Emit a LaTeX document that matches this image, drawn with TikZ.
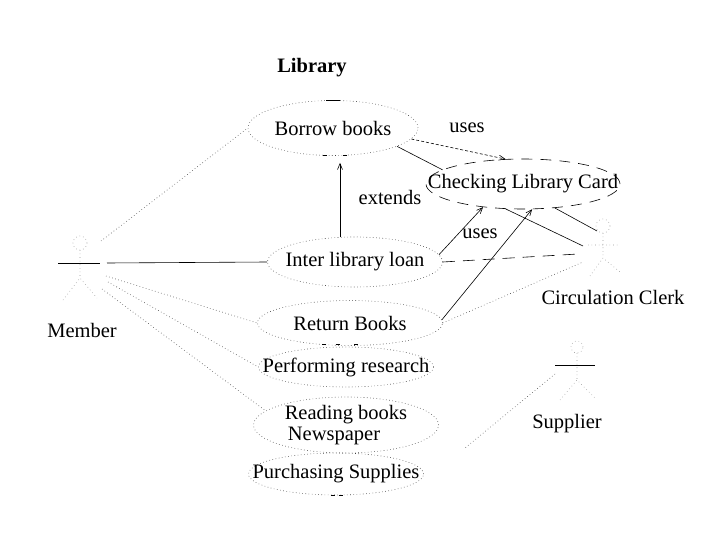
\documentclass[tikz,border=0pt]{standalone}
\usepackage{fontspec}
\setmainfont{Liberation Serif}
\usetikzlibrary{shapes.geometric,arrows.meta}
\begin{document}
\begin{tikzpicture}[x=1pt,y=-1pt,
  every node/.style={font=\fontsize{20.5}{21}\selectfont},
  uc/.style={ellipse, draw=black!75, line width=0.6pt, dash pattern=on 0.6pt off 2.6pt, inner sep=0pt},
  ucd/.style={ellipse, draw=black, line width=0.6pt, dash pattern=on 11pt off 8pt, inner sep=0pt},
  dotline/.style={draw=black!75, line width=0.6pt, dash pattern=on 0.6pt off 2.6pt},
  plainline/.style={draw=black, line width=0.6pt},
  tick/.style={draw=black, line width=0.8pt},
  arr/.style={-{Straight Barb[length=6pt,width=5pt]}, draw=black, line width=0.6pt},
  lbl/.style={inner sep=0pt},
  figdot/.style={draw=black!40, line width=0.6pt, dash pattern=on 0.6pt off 3pt},
]
\useasboundingbox (0,0) rectangle (720,540);

% title
\node[lbl, font=\bfseries\fontsize{20.5}{22}\selectfont] (title) at (312,68) {Library};

% use cases
\node[uc, minimum width=170pt, minimum height=55pt, label={center:Borrow books}] (borrow) at (333,128) {};
\node[ucd, minimum width=194pt, minimum height=50pt, label={center:Checking Library Card}] (check) at (523,184) {};
\node[uc, minimum width=175pt, minimum height=50pt, label={center:Inter library loan}] (ill) at (355,262) {};
\node[uc, minimum width=185pt, minimum height=45pt, label={center:Return Books}] (ret) at (350,323) {};
\node[uc, minimum width=175pt, minimum height=40pt, label={center:Performing research}] (perf) at (346,367) {};
\node[uc, minimum width=185pt, minimum height=56pt, label={[align=center]center:Reading books\\\hspace*{-24pt}Newspaper}] (read) at (346,425) {};
\node[uc, minimum width=175pt, minimum height=42pt, label={center:Purchasing Supplies}] (purch) at (336,474) {};

% small dash marks on the use case outlines
\draw[tick] ([xshift=-7pt]borrow.north) -- ([xshift=7pt]borrow.north);
\draw[tick] ([xshift=-10pt]borrow.south) -- ([xshift=-6pt]borrow.south);
\draw[tick] ([xshift=10pt]borrow.south) -- ([xshift=14pt]borrow.south);
\draw[tick] ([xshift=-28pt,yshift=1pt]ret.south) -- ([xshift=-24pt,yshift=1pt]ret.south);
\draw[tick] ([xshift=-14pt,yshift=1pt]ret.south) -- ([xshift=-10pt,yshift=1pt]ret.south);
\draw[tick] ([xshift=4pt,yshift=1pt]ret.south) -- ([xshift=8pt,yshift=1pt]ret.south);
\draw[tick] ([xshift=-5pt]purch.south) -- ([xshift=-1pt]purch.south);
\draw[tick] ([xshift=3pt]purch.south) -- ([xshift=7pt]purch.south);

% connector labels
\node[lbl] (uses1) at (467,128) {uses};
\node[lbl] (ext) at (390,197) {extends};
\node[lbl] (uses2) at (480,234) {uses};

% actor names
\node[lbl] (member) at (82,330) {Member};
\node[lbl] (clerk) at (613,297) {Circulation Clerk};
\node[lbl] (supplier) at (567,424) {Supplier};

% Member figure
\draw[figdot] (80,243) circle[radius=7pt];
\draw[figdot] (80,250) -- (80,278) (63,300) -- (80,278) -- (97,298);
\draw[plainline] (58,263) -- (100,263);
\coordinate (memA) at (107,263);
\coordinate (memB) at (101,241);
\coordinate (memC) at (106,276);
\coordinate (memD) at (108,282);
\coordinate (memE) at (102,289);

% Circulation Clerk figure
\draw[figdot] (603,226) circle[radius=7pt];
\draw[figdot] (603,233) -- (603,258) (590,276) -- (603,258) -- (620,272) (588,245) -- (620,245);
\coordinate (clA) at (583,246);
\coordinate (clB) at (597,231);
\coordinate (clC) at (578,254);
\coordinate (clD) at (583,262);

% Supplier figure
\draw[figdot] (577,347) circle[radius=6pt];
\draw[figdot] (577,353) -- (577,380) (560,400) -- (577,380) -- (595,398);
\draw[plainline] (555,365) -- (595,365);
\coordinate (supA) at (555,374);
\coordinate (supEnd) at (465,448);

% Member associations
\draw[plainline] (memA) -- (ill.west);
\draw[dotline] (memB) -- (borrow.west);
\draw[dotline] (memC) -- (ret.west);
\draw[dotline] (memD) -- (perf.west);
\draw[dotline] (memE) -- (read.170);

% Clerk associations
\draw[plainline] (clA) -- (check.235);
\draw[plainline] (clB) -- (check.323);
\draw[plainline, dash pattern=on 12pt off 8pt] (ill.east) -- (clC);
\draw[dotline] (ret.east) -- (clD);

% Supplier association
\draw[dotline] (supA) -- (supEnd);

% relations between use cases
\draw[arr, dash pattern=on 3pt off 2pt] (borrow.-8) -- (check.125);
\draw[plainline] (borrow.-16) -- (check.170);
\draw[arr] ([xshift=-15pt]ill.north) -- ([xshift=7pt,yshift=-7pt]borrow.south);
\draw[arr] (ill.5) -- (check.210);
\draw[arr] (ret.2) -- (check.290);
\end{tikzpicture}
\end{document}
